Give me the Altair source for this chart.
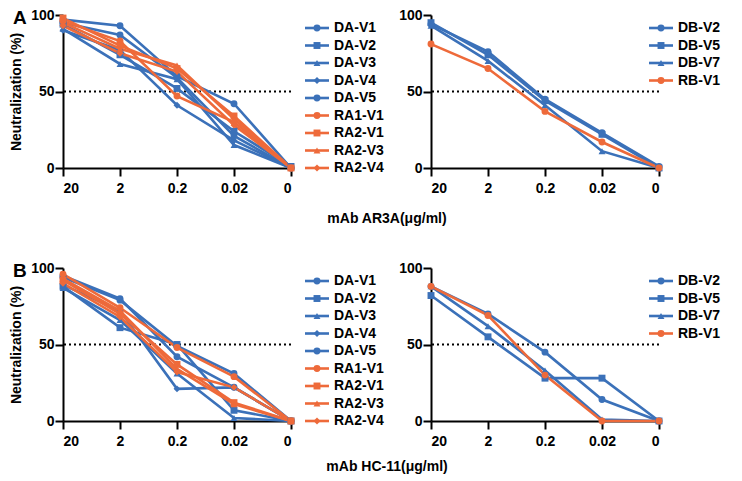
import json
import altair as alt
import pandas as pd

FONT = "Liberation Sans"
BLUE = "#3b71b9"
ORANGE = "#ee6a3a"

dilutions = ["20", "2", "0.2", "0.02", "0"]

# Panel A (mAb AR3A) - left
a_left_names = ["DA-V1", "DA-V2", "DA-V3", "DA-V4", "DA-V5", "RA1-V1", "RA2-V1", "RA2-V3", "RA2-V4"]
a_left_vals = {
    "DA-V1": [97, 93, 60, 42, 0],
    "DA-V2": [94, 74, 52, 24, 1],
    "DA-V3": [91, 68, 58, 15, 0],
    "DA-V4": [90, 77, 41, 18, 0],
    "DA-V5": [95, 87, 59, 21, 0],
    "RA1-V1": [96, 83, 47, 30, 0],
    "RA2-V1": [98, 80, 65, 34, 0],
    "RA2-V3": [95, 78, 67, 32, 0],
    "RA2-V4": [93, 75, 63, 28, 0],
}
# Panel A - right
a_right_names = ["DB-V2", "DB-V5", "DB-V7", "RB-V1"]
a_right_vals = {
    "DB-V2": [94, 76, 45, 23, 1],
    "DB-V5": [95, 74, 44, 22, 0],
    "DB-V7": [93, 70, 41, 11, 0],
    "RB-V1": [81, 65, 37, 17, 0],
}
# Panel B (mAb HC-11) - left
b_left_names = a_left_names
b_left_vals = {
    "DA-V1": [95, 80, 42, 22, 0],
    "DA-V2": [88, 61, 50, 7, 0],
    "DA-V3": [87, 66, 31, 2, 0],
    "DA-V4": [89, 72, 21, 22, 0],
    "DA-V5": [94, 79, 49, 31, 0],
    "RA1-V1": [96, 74, 48, 29, 0],
    "RA2-V1": [92, 70, 37, 12, 0],
    "RA2-V3": [93, 72, 34, 11, 0],
    "RA2-V4": [90, 68, 32, 22, 0],
}
# Panel B - right
b_right_names = a_right_names
b_right_vals = {
    "DB-V2": [88, 70, 45, 14, 0],
    "DB-V5": [82, 55, 28, 28, 0],
    "DB-V7": [88, 62, 33, 1, 0],
    "RB-V1": [88, 69, 30, 0, 0],
}

left_shapes = ["circle", "square", "triangle-up", "diamond", "circle",
               "circle", "square", "triangle-up", "diamond"]
right_shapes = ["circle", "square", "triangle-up", "circle"]


def color_of(name):
    return BLUE if name.startswith("D") else ORANGE


def plot(names, vals, shapes, ytitle, letter, xtitle, xtitle_y):
    rows = []
    for i, n in enumerate(names):
        for j, v in enumerate(vals[n]):
            rows.append(dict(series=n, idx=j, value=v, col=color_of(n), shp=shapes[i]))
    df = pd.DataFrame(rows)
    base = alt.Chart(df)
    x = alt.X("idx:Q", scale=alt.Scale(domain=[0, 4], nice=False, zero=False),
              axis=alt.Axis(values=[0, 1, 2, 3, 4],
                            labelExpr=json.dumps(dilutions) + "[datum.value]",
                            title=None, grid=False, tickSize=8, labelPadding=5))
    yaxis = dict(values=[0, 50, 100], grid=False, tickSize=8, labelPadding=1)
    if ytitle:
        yaxis["title"] = "Neutralization (%)"
        yaxis["titlePadding"] = 7
    else:
        yaxis["title"] = None
    y = alt.Y("value:Q", scale=alt.Scale(domain=[0, 100], nice=False), axis=alt.Axis(**yaxis))
    ref = alt.Chart(pd.DataFrame({"v": [50]})).mark_rule(
        color="black", strokeWidth=2, strokeDash=[2, 3]).encode(y="v:Q")
    lines = base.mark_line(strokeWidth=2.6).encode(
        x=x, y=y, color=alt.Color("col:N", scale=None), detail="series:N")
    pts = base.mark_point(filled=True, size=48, opacity=1).encode(
        x=x, y=y, color=alt.Color("col:N", scale=None), shape=alt.Shape("shp:N", scale=None))
    layers = [ref, lines, pts]
    if letter:
        layers.append(alt.Chart(pd.DataFrame({"t": [letter]})).mark_text(
            align="left", baseline="top", fontSize=19, fontWeight="bold",
            font=FONT, color="black").encode(x=alt.value(-50), y=alt.value(-6), text="t:N"))
    if xtitle:
        layers.append(alt.Chart(pd.DataFrame({"t": [xtitle]})).mark_text(
            align="center", baseline="alphabetic", fontSize=14, fontWeight="bold",
            font=FONT, color="black").encode(x=alt.value(324), y=alt.value(xtitle_y), text="t:N"))
    return alt.layer(*layers).properties(width=228, height=153)


def legend(names, shapes, x0, width):
    df = pd.DataFrame(dict(series=names, rank=list(range(len(names))),
                           col=[color_of(n) for n in names], shp=shapes))
    base = alt.Chart(df)
    y = alt.Y("rank:Q", scale=alt.Scale(domain=[-0.743, 8], reverse=True, nice=False, zero=False),
              axis=None)
    rule = base.mark_rule(strokeWidth=2.6).encode(
        x=alt.value(x0), x2=alt.value(x0 + 24), y=y, color=alt.Color("col:N", scale=None))
    pt = base.mark_point(filled=True, size=48, opacity=1).encode(
        x=alt.value(x0 + 12), y=y, color=alt.Color("col:N", scale=None),
        shape=alt.Shape("shp:N", scale=None))
    txt = base.mark_text(align="left", baseline="middle", fontSize=14, fontWeight="bold",
                         font=FONT, color="black").encode(
        x=alt.value(x0 + 29), y=y, text="series:N")
    return alt.layer(rule, pt, txt).properties(width=width, height=153)


rowA = alt.hconcat(
    plot(a_left_names, a_left_vals, left_shapes, True, "A", "mAb AR3A(μg/ml)", 208),
    legend(a_left_names, left_shapes, 14, 140),
    plot(a_right_names, a_right_vals, right_shapes, False, None, None, 0),
    legend(a_right_names, right_shapes, -10, 70),
    spacing=0, bounds="flush",
)
rowB = alt.hconcat(
    plot(b_left_names, b_left_vals, left_shapes, True, "B", "mAb HC-11(μg/ml)", 203),
    legend(b_left_names, left_shapes, 14, 140),
    plot(b_right_names, b_right_vals, right_shapes, False, None, None, 0),
    legend(b_right_names, right_shapes, -10, 70),
    spacing=0, bounds="flush",
)

chart = alt.vconcat(rowA, rowB, spacing=253, bounds="flush").properties(
    padding={"left": 1, "top": 0, "right": 0, "bottom": 0}
).configure_view(stroke=None).configure_axis(
    domainColor="black", domainWidth=2, tickColor="black", tickWidth=2,
    labelColor="black", labelFont=FONT, labelFontSize=14, labelFontWeight="bold",
    titleColor="black", titleFont=FONT, titleFontSize=14, titleFontWeight="bold",
)

chart.save("out.html", embed_options={"renderer": "svg", "actions": False})
